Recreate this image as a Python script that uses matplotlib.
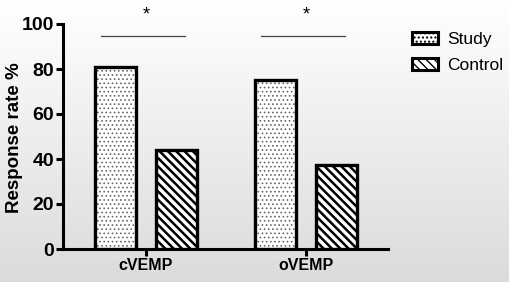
import matplotlib
matplotlib.use("Agg")
import matplotlib.pyplot as plt
import numpy as np
from matplotlib.patches import Patch

categories = ["cVEMP", "oVEMP"]
study = [81, 75]
control = [44, 37.5]
series_names = ["Study", "Control"]
yticks = [0, 20, 40, 60, 80, 100]

plt.rcParams['font.family'] = ['Liberation Sans', 'DejaVu Sans']

fig = plt.figure(figsize=(5.1, 2.82), dpi=100)
# background gradient
bg = fig.add_axes([0, 0, 1, 1], zorder=-10)
grad = np.linspace(1.0, 0.86, 256).reshape(-1, 1)
bg.imshow(np.dstack([grad, grad, grad]), aspect='auto', extent=[0, 1, 0, 1])
bg.axis('off')

ax = fig.add_axes([63/510, 1-249/282, (388-63)/510, (249-24)/282])
ax.patch.set_alpha(0)

x = np.arange(len(categories))
w = 0.256
off = 0.19
# study bars: dotted fill (gray dots) then black outline
plt.rcParams['hatch.linewidth'] = 0.7
ax.bar(x - off, study, w, color='white', edgecolor='#666666', hatch='....', linewidth=0, zorder=2)
ax.bar(x - off, study, w, color='none', edgecolor='black', linewidth=2.4, zorder=3)
plt.rcParams['hatch.linewidth'] = 1.8
ax.bar(x + off, control, w, color='white', edgecolor='black', hatch='\\\\\\\\', linewidth=2.4, zorder=3)

ax.set_xlim(-0.519, 1.5125)
ax.set_ylim(0, 100)
ax.set_yticks(yticks)
ax.set_xticks(x)
ax.set_xticklabels(categories, fontsize=11.5, fontweight='bold')
ax.set_yticklabels([str(t) for t in yticks], fontsize=14, fontweight='bold')
fig.text(15/510, 1-138/282, "Response rate %", rotation=90, ha='center', va='center',
         fontsize=13.5, fontweight='bold')
for s in ['top', 'right']:
    ax.spines[s].set_visible(False)
for s in ['left', 'bottom']:
    ax.spines[s].set_linewidth(2.2)
ax.tick_params(axis='both', width=2.2, length=5, pad=1.5)

# significance lines
for xi in x:
    ax.plot([xi - 0.28, xi + 0.245], [94.5, 94.5], color='#444444', lw=0.9, clip_on=False)
    ax.text(xi, 104, '*', ha='center', va='center', fontsize=13, clip_on=False)

plt.rcParams['hatch.linewidth'] = 1.0
handles = [Patch(facecolor='white', edgecolor='black', hatch='....', linewidth=2.2),
           Patch(facecolor='white', edgecolor='black', hatch='\\\\\\\\', linewidth=2.2)]
fig.legend(handles, series_names, loc='upper left', bbox_to_anchor=(405/510, 1-25/282),
           frameon=False, fontsize=12.5, handlelength=1.5, handleheight=0.7,
           labelspacing=0.6, handletextpad=0.55, borderaxespad=0)

fig.savefig("out.png", dpi=100)
